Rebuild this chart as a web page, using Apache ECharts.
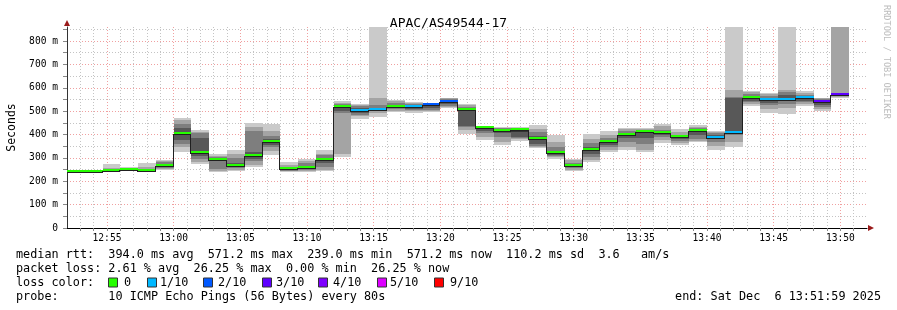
<!DOCTYPE html>
<html><head><meta charset="utf-8">
<script src="https://cdn.jsdelivr.net/npm/echarts@6/dist/echarts.min.js"></script>
<style>html,body{margin:0;padding:0;background:#fff}#c{width:897px;height:310px}</style>
</head><body><div id="c"></div>
<script>
// ---- data ----
const stepSeconds = 80;              // one sample every 80 s, starting 12:52:00
const xTickLabels = ['12:55','13:00','13:05','13:10','13:15','13:20','13:25','13:30','13:35','13:40','13:45','13:50'];
const yTickLabels = ['0','100 m','200 m','300 m','400 m','500 m','600 m','700 m','800 m'];
const medianMs = [239,241,246,248,243,266,404,320,293,266,310,370,253,258,293,517,501,507,517,519,527,541,504,427,416,419,382,320,266,332,366,399,409,406,390,417,387,407,557,547,549,555,540,571,null];
const lossTenths = [0,0,0,0,0,0,0,0,0,0,0,0,0,0,0,0,1,1,0,1,2,2,0,0,0,0,0,0,0,0,0,0,0,0,0,0,1,1,0,1,1,1,3,3,null];
// sorted ping rtts (ms) of each sample, used for the smoke
const pings = [
[238,238,239,239,239,239,240,240,240,241],
[240,240,241,241,241,241,242,242,243,244],
[240,243,244,245,246,247,248,250,255,275],
[242,244,245,246,247,249,250,252,256,262],
[239,240,241,242,243,244,246,250,260,280],
[250,254,258,262,265,268,275,282,288,293],
[327,345,360,375,400,408,430,445,460,472],
[273,282,296,310,318,322,387,407,412,419],
[238,244,252,285,290,295,298,305,310,318],
[242,248,255,262,265,268,280,300,316,332],
[259,271,285,295,305,315,327,416,433,450],
[313,330,345,355,368,372,380,395,415,443],
[238,242,246,249,252,254,258,262,270,283],
[238,244,248,252,256,260,265,278,285,296],
[246,250,262,280,290,296,300,312,316,335],
[302,318,491,500,512,520,524,530,535,544],
[467,478,483,490,498,504,512,520,525,530],
[477,490,500,505,506,508,515,527,558,1000],
[496,502,508,512,515,519,525,535,542,547],
[492,500,505,510,516,521,525,530,534,538],
[496,500,505,515,525,528,530,532,534,535],
[513,518,522,530,538,543,547,552,555,557],
[403,420,434,437,500,508,512,518,525,530],
[378,390,405,415,425,429,432,434,436,437],
[353,370,390,405,414,418,422,426,429,431],
[374,380,387,390,410,424,426,428,430,432],
[342,345,350,360,378,386,395,410,425,441],
[296,302,308,314,318,322,330,345,370,396],
[242,250,255,262,265,268,272,280,290,295],
[281,290,305,315,328,336,345,362,380,402],
[327,335,345,355,364,368,372,385,400,416],
[335,345,370,385,396,402,408,414,422,429],
[327,335,360,385,405,413,417,420,423,428],
[363,377,390,400,404,408,413,420,436,446],
[356,365,372,380,386,392,396,400,412,424],
[366,372,380,398,412,420,424,428,434,441],
[335,350,370,380,385,390,400,408,412,416],
[345,370,398,404,406,408,555,560,592,1000],
[520,530,538,545,556,560,565,575,582,587],
[494,510,525,535,545,549,555,565,572,577],
[488,515,530,545,548,552,570,584,592,1000],
[520,530,538,545,552,556,562,570,578,588],
[502,510,518,528,538,542,548,552,555,557],
[555,560,565,568,570,572,575,578,1000,1000],
null
];
const lossLegend = ['0','1/10','2/10','3/10','4/10','5/10','9/10'];
const lossLegendTenths = [0,1,2,3,4,5,9];
const statsLines = [
  'median rtt:  394.0 ms avg  571.2 ms max  239.0 ms min  571.2 ms now  110.2 ms sd  3.6   am/s',
  'packet loss: 2.61 % avg  26.25 % max  0.00 % min  26.25 % now',
  'loss color:',
  'probe:       10 ICMP Echo Pings (56 Bytes) every 80s'
];
const endText = 'end: Sat Dec  6 13:51:59 2025';

// ---- styles ----
const MONO = '"DejaVu Sans Mono", monospace';
const lossColor = {0:'#26ff00',1:'#00b8ff',2:'#0059ff',3:'#5e00ff',4:'#7e00ff',5:'#dd00ff',9:'#ff0000'};
const smokeColors = ['#cacaca','#a4a4a4','#7e7e7e','#585858','#323232'];
const GRID_MINOR = '#c4c4c4', GRID_MAJOR = '#f0a0a0';

const startSec = pings.map((_, i) => i * stepSeconds);
const smokeData = pings.map((p, i) => [startSec[i], medianMs[i]]);

function clipTo(params, r) {
  const cs = params.coordSys;
  return echarts.graphic.clipRectByRect(r, {x: cs.x, y: cs.y, width: cs.width, height: cs.height});
}

const chart = echarts.init(document.getElementById('c'), null, {renderer: 'canvas'});
const option = {
  animation: false,
  backgroundColor: '#ffffff',
  title: {
    text: 'APAC/AS49544-17', left: 'center', top: 12,
    textStyle: {fontFamily: MONO, fontSize: 13, fontWeight: 'normal', color: '#000'}
  },
  grid: {left: 67, right: 30, top: 27, bottom: 82, containLabel: false, outerBoundsMode: 'none'},
  xAxis: {
    type: 'value', min: 0, max: 3600, interval: 60,
    axisLine: {show: true, lineStyle: {color: '#000', width: 1}},
    axisTick: {show: true, length: 3, lineStyle: {color: '#888'}},
    axisLabel: {
      fontFamily: MONO, fontSize: 9.6, color: '#000', margin: 5, showMinLabel: false, showMaxLabel: false,
      formatter: v => {
        if ((v - 180) % 300 !== 0 || v < 180) return '';
        return xTickLabels[(v - 180) / 300] || '';
      }
    },
    splitLine: {show: true, showMaxLine: false,
      lineStyle: {color: [GRID_MINOR, GRID_MINOR, GRID_MINOR, GRID_MAJOR, GRID_MINOR], type: [1, 2], width: 1}}
  },
  yAxis: {
    type: 'value', min: 0, max: 860, interval: 50,
    name: 'Seconds', nameLocation: 'middle', nameGap: 49, nameRotate: 90,
    nameTextStyle: {fontFamily: MONO, fontSize: 11.5, color: '#000'},
    axisLine: {show: true, lineStyle: {color: '#333', width: 1}},
    axisTick: {show: true, length: 4, lineStyle: {color: '#888'}},
    axisLabel: {
      fontFamily: MONO, fontSize: 9.6, color: '#000', margin: 9, showMaxLabel: false,
      formatter: v => (v % 100 === 0 ? (yTickLabels[v / 100] || '') : '')
    },
    splitLine: {show: true, showMaxLine: false,
      lineStyle: {color: [GRID_MAJOR, GRID_MINOR], type: [1, 2], width: 1}}
  },
  series: [
    {
      type: 'custom', name: 'smoke', data: smokeData, encode: {x: 0, y: 1}, z: 2,
      renderItem: (params, api) => {
        const i = params.dataIndex;
        const row = pings[i];
        if (!row) return null;
        const t0 = api.value(0), t1 = t0 + stepSeconds;
        const children = [];
        for (let k = 0; k < 5; k++) {
          const a = api.coord([t0, row[k]]);
          const b = api.coord([t1, row[9 - k]]);
          const x0 = Math.round(a[0]), x1 = Math.round(b[0]);
          const yb = Math.round(a[1]), yt = Math.round(b[1]);
          const r = clipTo(params, {x: x0, y: yt, width: x1 - x0, height: Math.max(yb - yt, 1)});
          if (r) children.push({type: 'rect', shape: r, style: {fill: smokeColors[k]}});
        }
        return {type: 'group', children};
      }
    },
    {
      type: 'custom', name: 'median', data: smokeData, encode: {x: 0, y: 1}, z: 3,
      renderItem: (params, api) => {
        const i = params.dataIndex;
        const m = medianMs[i];
        if (m == null) return null;
        const t0 = api.value(0), t1 = t0 + stepSeconds;
        const a = api.coord([t0, m]), b = api.coord([t1, m]);
        const x0 = Math.round(a[0]), x1 = Math.round(b[0]);
        const y = Math.round(a[1]);
        const children = [
          {type: 'rect', shape: {x: x0, y: y - 2, width: x1 - x0, height: 2}, style: {fill: lossColor[lossTenths[i]]}},
          {type: 'rect', shape: {x: x0, y: y, width: x1 - x0, height: 1}, style: {fill: '#202020'}}
        ];
        if (i > 0 && medianMs[i - 1] != null) {
          const p = api.coord([t0, medianMs[i - 1]]);
          const yp = Math.round(p[1]);
          const top = Math.min(yp, y), bot = Math.max(yp, y);
          children.push({type: 'rect', shape: {x: x0 - 1, y: top, width: 1, height: bot - top + 1}, style: {fill: '#202020'}});
        }
        return {type: 'group', children};
      }
    }
  ]
};
chart.setOption(option);

// decorations: axis arrows, legend, stats text
const pRight = chart.convertToPixel({gridIndex: 0}, [3600, 0]);
const pTop = chart.convertToPixel({gridIndex: 0}, [0, 860]);
const graphics = [
  {type: 'polygon', shape: {points: [[pRight[0] + 1, pRight[1] - 3], [pRight[0] + 7, pRight[1]], [pRight[0] + 1, pRight[1] + 3]]}, style: {fill: '#9a1a1a'}, z: 10},
  {type: 'polygon', shape: {points: [[pTop[0] - 3, pTop[1] - 1], [pTop[0], pTop[1] - 7], [pTop[0] + 3, pTop[1] - 1]]}, style: {fill: '#9a1a1a'}, z: 10},
  {type: 'text', x: 886, y: 5, rotation: -Math.PI / 2,
    style: {text: 'RRDTOOL / TOBI OETIKER', fill: '#bdbdbd', font: '8.6px ' + MONO, textAlign: 'left', textVerticalAlign: 'middle'}}
];
const lineY = [254.5, 268.5, 282.5, 296.5];
const TXT = '11.8px ' + MONO;
statsLines.forEach((t, k) => {
  graphics.push({type: 'text', x: 16, y: lineY[k], style: {text: t, fill: '#000', font: TXT, textAlign: 'left', textVerticalAlign: 'middle'}});
});
const boxX = [108, 147, 203, 262, 318, 377, 434];
const labX = [124, 160, 218, 276, 333, 390, 450];
lossLegend.forEach((t, k) => {
  graphics.push({type: 'rect', shape: {x: boxX[k] + 0.5, y: lineY[2] - 4.5, width: 9, height: 9}, style: {fill: lossColor[lossLegendTenths[k]], stroke: '#333', lineWidth: 1}});
  graphics.push({type: 'text', x: labX[k], y: lineY[2], style: {text: t, fill: '#000', font: TXT, textAlign: 'left', textVerticalAlign: 'middle'}});
});
graphics.push({type: 'text', x: 881, y: lineY[3], style: {text: endText, fill: '#000', font: TXT, textAlign: 'right', textVerticalAlign: 'middle'}});
chart.setOption({graphic: graphics});
</script>
</body></html>
